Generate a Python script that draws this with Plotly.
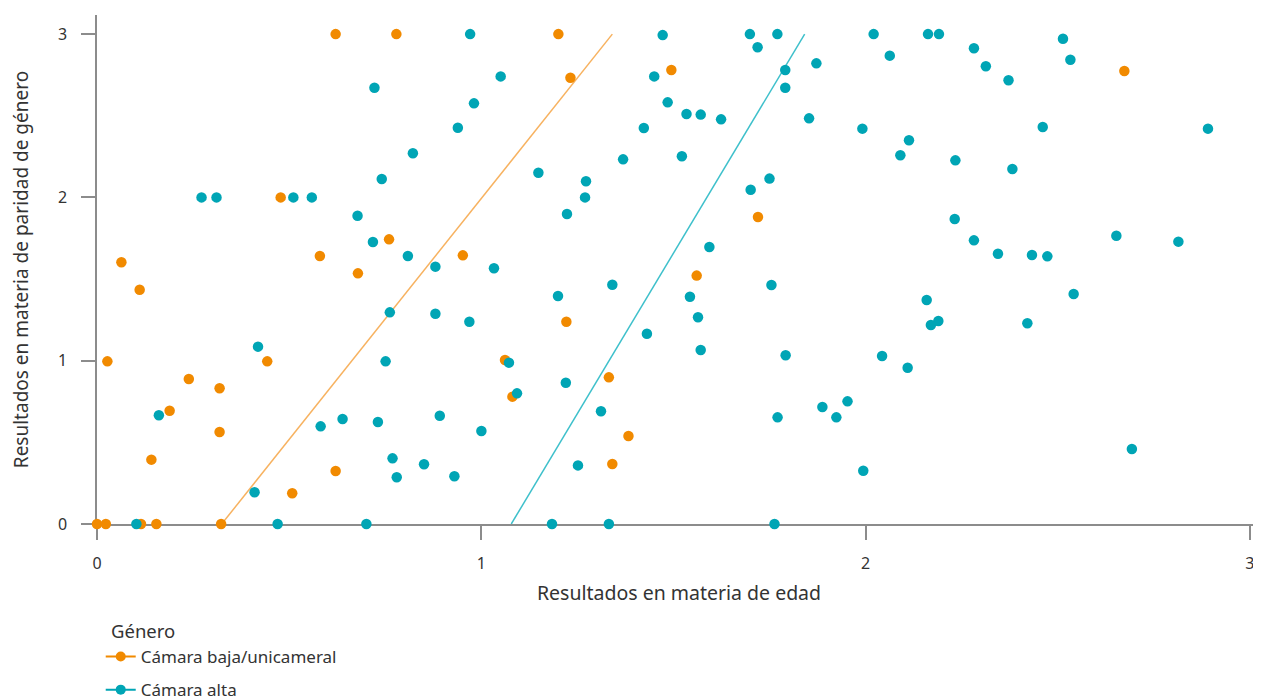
import plotly.graph_objects as go

# Cámara baja/unicameral (orange)
baja_x = [0.621, 0.779, 1.2006, 1.232, 1.4946, 2.6734, 0.478, 0.760, 0.580, 0.679,
          0.0635, 0.111, 0.952, 1.720, 1.5605, 1.2214, 0.443, 0.027, 0.239, 0.319,
          0.189, 0.319, 0.1415, 0.621, 0.508, 1.0617, 1.081, 1.332, 1.383, 1.341,
          0.0, 0.023, 0.1145, 0.1545, 0.323]
baja_y = [3.0, 3.0, 3.0, 2.733, 2.780, 2.774, 2.0, 1.743, 1.641, 1.535,
          1.603, 1.435, 1.645, 1.880, 1.521, 1.239, 0.996, 0.996, 0.888, 0.831,
          0.694, 0.563, 0.394, 0.325, 0.188, 1.004, 0.780, 0.898, 0.539, 0.367,
          0.0, 0.0, 0.0, 0.0, 0.0]

# Cámara alta (teal)
alta_x = [0.722, 0.822, 0.741, 0.272, 0.311, 0.511, 0.559, 0.678, 0.718, 0.809,
          0.762, 0.419, 0.751, 0.161, 0.582, 0.639, 0.731, 0.769, 0.780, 0.410,
          0.1025, 0.470, 0.701, 0.851, 0.971, 1.0505, 0.981, 0.939, 1.1486, 1.2725,
          1.270, 1.223, 0.8806, 1.033, 1.472, 1.450, 1.485, 1.534, 1.571, 1.624,
          1.423, 1.522, 1.369, 1.699, 1.7705, 1.719, 1.791, 1.791, 1.872, 1.853,
          1.750, 1.701, 1.5935, 0.8806, 0.969, 1.1996, 1.341, 1.431, 1.543, 1.564,
          1.571, 1.755, 1.792, 1.072, 1.093, 1.220, 1.3115, 0.892, 1.0003, 0.930,
          1.2516, 1.771, 1.8876, 1.184, 1.332, 1.763, 2.021, 2.1625, 2.191, 2.063,
          2.282, 2.313, 2.372, 2.5137, 2.533, 1.9917, 2.113, 2.0905, 2.2337, 2.382,
          2.461, 2.891, 2.232, 2.282, 2.3445, 2.433, 2.473, 2.6526, 2.814, 2.159,
          2.170, 2.1894, 2.421, 2.5415, 2.043, 2.1095, 1.924, 1.953, 1.994, 2.693]
alta_y = [2.672, 2.270, 2.113, 2.0, 2.0, 2.0, 2.0, 1.888, 1.727, 1.641,
          1.296, 1.086, 0.996, 0.666, 0.598, 0.643, 0.625, 0.402, 0.286, 0.194,
          0.0, 0.0, 0.0, 0.366, 3.0, 2.741, 2.576, 2.427, 2.151, 2.099,
          2.0, 1.898, 1.576, 1.566, 2.994, 2.741, 2.582, 2.511, 2.507, 2.478,
          2.425, 2.252, 2.233, 3.0, 3.0, 2.919, 2.780, 2.672, 2.821, 2.484,
          2.115, 2.047, 1.696, 1.288, 1.239, 1.396, 1.465, 1.165, 1.392, 1.266,
          1.066, 1.464, 1.033, 0.988, 0.800, 0.865, 0.690, 0.663, 0.5695, 0.292,
          0.359, 0.653, 0.7165, 0.0, 0.0, 0.0, 3.0, 3.0, 3.0, 2.868,
          2.913, 2.803, 2.717, 2.972, 2.843, 2.421, 2.350, 2.258, 2.227, 2.174,
          2.431, 2.421, 1.868, 1.737, 1.655, 1.647, 1.639, 1.765, 1.729, 1.372,
          1.219, 1.243, 1.229, 1.408, 1.029, 0.957, 0.653, 0.751, 0.326, 0.459]

# Trend lines (endpoints)
baja_line_x = [0.3245, 1.341]
baja_line_y = [0.0, 3.0]
alta_line_x = [1.078, 1.8415]
alta_line_y = [0.0, 3.0]

series_names = ["Cámara baja/unicameral", "Cámara alta"]
legend_title = "Género"
x_title = "Resultados en materia de edad"
y_title = "Resultados en materia de paridad de género"
x_ticks = [0, 1, 2, 3]
y_ticks = [0, 1, 2, 3]

ORANGE = "#F18A00"
TEAL = "#00A5B5"
FONT = "Noto Sans"
TXT = "#333333"
AXC = "#8c8c8c"

fig = go.Figure()

fig.add_trace(go.Scatter(x=baja_line_x, y=baja_line_y, mode="lines",
                         line=dict(color="#F7B260", width=1.5), showlegend=False,
                         hoverinfo="skip"))
fig.add_trace(go.Scatter(x=alta_line_x, y=alta_line_y, mode="lines",
                         line=dict(color="#3EC0CB", width=1.5), showlegend=False,
                         hoverinfo="skip"))

fig.add_trace(go.Scatter(x=baja_x, y=baja_y, mode="markers", name=series_names[0],
                         marker=dict(color=ORANGE, size=10.5), cliponaxis=False,
                         showlegend=False))
fig.add_trace(go.Scatter(x=alta_x, y=alta_y, mode="markers", name=series_names[1],
                         marker=dict(color=TEAL, size=10.5), cliponaxis=False,
                         showlegend=False))

# legend entries (line + marker symbol)
fig.add_trace(go.Scatter(x=[None], y=[None], mode="lines+markers", name=series_names[0],
                         legendgroup="a",
                         line=dict(color=ORANGE, width=2), marker=dict(color=ORANGE, size=10)))
fig.add_trace(go.Scatter(x=[None], y=[None], mode="lines+markers", name=series_names[1],
                         legendgroup="b",
                         line=dict(color=TEAL, width=2), marker=dict(color=TEAL, size=10)))

fig.add_annotation(text=legend_title, xref="paper", yref="paper",
                   x=0.0103, y=-0.2102, xanchor="left", yanchor="middle",
                   showarrow=False, font=dict(size=18.5, color=TXT))

fig.update_layout(
    width=1253, height=700,
    margin=dict(l=89, r=0, t=7, b=184, autoexpand=False),
    plot_bgcolor="white", paper_bgcolor="white",
    font=dict(family=FONT, size=16, color=TXT),
    legend=dict(
        orientation="v", x=0.0032, xanchor="left", y=-0.2259, yanchor="top",
        font=dict(size=17, color=TXT), tracegroupgap=8, itemwidth=30,
        bgcolor="rgba(0,0,0,0)"),
    xaxis=dict(
        range=[0, 3.029], tickvals=x_ticks, ticktext=[str(t) for t in x_ticks],
        showgrid=False, zeroline=False, showline=True, linecolor=AXC, linewidth=1.5,
        ticks="outside", ticklen=14, tickwidth=1.5, tickcolor=AXC,
        tickfont=dict(size=16, color=TXT), layer="below traces", automargin=False,
        ticklabelstandoff=10,
        title=dict(text=x_title, font=dict(size=19.5, color=TXT), standoff=13)),
    yaxis=dict(
        range=[0, 3.117], tickvals=y_ticks, ticktext=[str(t) for t in y_ticks],
        showgrid=False, zeroline=False, showline=True, linecolor=AXC, linewidth=1.5,
        ticks="outside", ticklen=14, tickwidth=1.5, tickcolor=AXC,
        tickfont=dict(size=16, color=TXT), layer="below traces", automargin=False,
        ticklabelstandoff=11,
        title=dict(text=y_title, font=dict(size=19, color=TXT), standoff=28)),
)

fig.write_html("out.html")
